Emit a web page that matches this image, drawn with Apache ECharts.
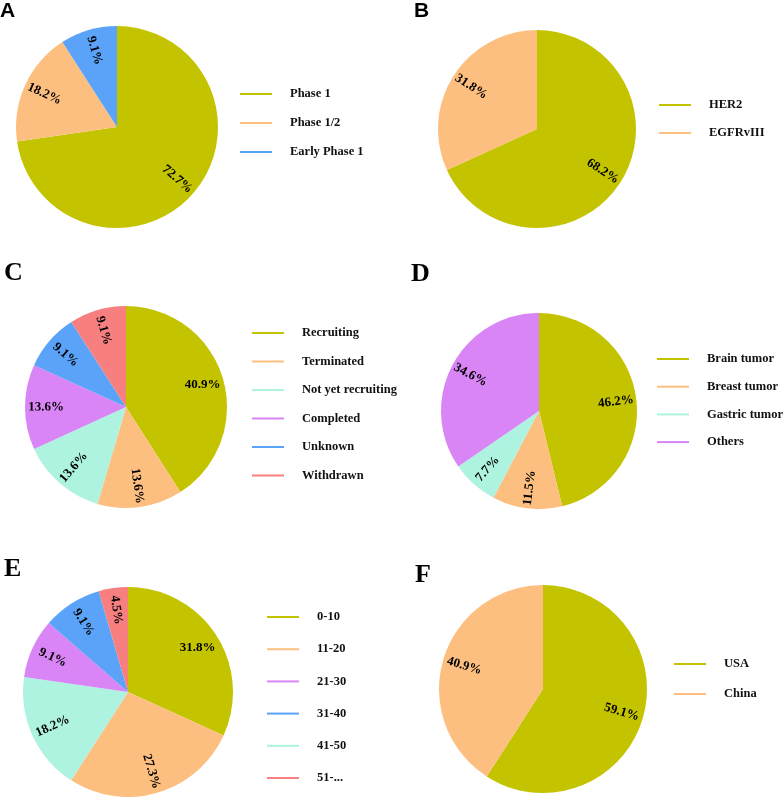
<!DOCTYPE html>
<html>
<head>
<meta charset="utf-8">
<script src="https://cdn.jsdelivr.net/npm/echarts@6/dist/echarts.min.js"></script>
<style>
  html, body { margin: 0; padding: 0; background: #fff; }
  #chart { width: 784px; height: 801px; }
</style>
</head>
<body>
<div id="chart"></div>
<script>
// 各图数据（百分比）
const phaseNames = ['Phase 1', 'Phase 1/2', 'Early Phase 1'];
const phaseValues = [72.7, 18.2, 9.1];

const targetNames = ['HER2', 'EGFRvIII'];
const targetValues = [68.2, 31.8];

const statusNames = ['Recruiting', 'Terminated', 'Not yet recruiting', 'Completed', 'Unknown', 'Withdrawn'];
const statusValues = [40.9, 13.6, 13.6, 13.6, 9.1, 9.1];

const tumorNames = ['Brain tumor', 'Breast tumor', 'Gastric tumor', 'Others'];
const tumorValues = [46.2, 11.5, 7.7, 34.6];

// 扇区顺序和图例顺序不一样
const ageNames = ['0-10', '11-20', '41-50', '21-30', '31-40', '51-...'];
const ageValues = [31.8, 27.3, 18.2, 9.1, 9.1, 4.5];
const ageLegend = ['0-10', '11-20', '21-30', '31-40', '41-50', '51-...'];

const countryNames = ['USA', 'China'];
const countryValues = [59.1, 40.9];

// 颜色
const olive = '#C4C300', peach = '#FDBF80', teal = '#ADF3DF',
      purple = '#D985F6', blue = '#5BA3F8', red = '#F77F7F';

// 这些标签保持水平
const flatLabels = ['Recruiting', '0-10'];

const serif = 'Liberation Serif';

const panels = [
    { letter: 'A', sans: true, names: phaseNames, values: phaseValues, legend: phaseNames,
      colors: [olive, peach, blue], center: [117, 127], r: 101,
      letterPos: [0, 1], legendPos: [240, 87], gap: 15 },
    { letter: 'B', sans: true, names: targetNames, values: targetValues, legend: targetNames,
      colors: [olive, peach], center: [537, 129], r: 99,
      letterPos: [414, 1], legendPos: [659, 98], gap: 14 },
    { letter: 'C', names: statusNames, values: statusValues, legend: statusNames,
      colors: [olive, peach, teal, purple, blue, red], center: [126, 407], r: 101,
      letterPos: [4, 260], legendPos: [252, 326], gap: 14.5 },
    { letter: 'D', names: tumorNames, values: tumorValues, legend: tumorNames,
      colors: [olive, peach, teal, purple], center: [539, 411], r: 98,
      letterPos: [411, 261], legendPos: [657, 352], gap: 13.7 },
    { letter: 'E', names: ageNames, values: ageValues, legend: ageLegend,
      colors: [olive, peach, teal, purple, blue, red], center: [128, 692], r: 105,
      letterPos: [4, 556], legendPos: [267, 610], gap: 18.2 },
    { letter: 'F', names: countryNames, values: countryValues, legend: countryNames,
      colors: [olive, peach], center: [543, 689], r: 104,
      letterPos: [415, 562], legendPos: [674, 657], gap: 16 }
];

const chart = echarts.init(document.getElementById('chart'));

const titles = panels.map(p => ({
    text: p.letter,
    left: p.letterPos[0],
    top: p.letterPos[1],
    padding: 0,
    textStyle: {
        fontFamily: p.sans ? 'Liberation Sans' : serif,
        fontWeight: 'bold',
        fontSize: p.sans ? 21 : 26,
        color: '#000'
    }
}));

const legends = panels.map(p => ({
    data: p.legend,
    orient: 'vertical',
    left: p.legendPos[0],
    top: p.legendPos[1],
    padding: 0,
    itemGap: p.gap,
    icon: 'rect',
    itemWidth: 32,
    itemHeight: 2,
    selectedMode: false,
    textStyle: {
        fontFamily: serif,
        fontWeight: 'bold',
        fontSize: 12.5,
        lineHeight: 14,
        color: '#111',
        padding: [0, 0, 0, 13]
    }
}));

// 实心饼图
const pieSeries = panels.map(p => ({
    type: 'pie',
    center: p.center,
    radius: [0, p.r],
    startAngle: 90,
    clockwise: true,
    color: p.colors,
    label: { show: false },
    labelLine: { show: false },
    emphasis: { disabled: true },
    data: p.names.map((n, i) => ({ name: n, value: p.values[i] }))
}));

// 透明的环，只用来放百分比标签（位置在半径约 0.76 处）
const labelSeries = panels.map(p => ({
    type: 'pie',
    center: p.center,
    radius: [p.r * 0.52, p.r],
    startAngle: 90,
    clockwise: true,
    silent: true,
    itemStyle: { color: 'rgba(0,0,0,0)' },
    labelLine: { show: false },
    emphasis: { disabled: true },
    label: {
        show: true,
        position: 'inside',
        rotate: 'radial',
        formatter: params => params.value.toFixed(1) + '%',
        fontFamily: serif,
        fontWeight: 'bold',
        fontSize: 13,
        color: '#000'
    },
    data: p.names.map((n, i) => {
        const item = { name: n, value: p.values[i] };
        if (flatLabels.indexOf(n) >= 0) {
            item.label = { rotate: 0 };
        }
        return item;
    })
}));

chart.setOption({
    animation: false,
    backgroundColor: '#fff',
    title: titles,
    legend: legends,
    series: pieSeries.concat(labelSeries)
});
</script>
</body>
</html>
